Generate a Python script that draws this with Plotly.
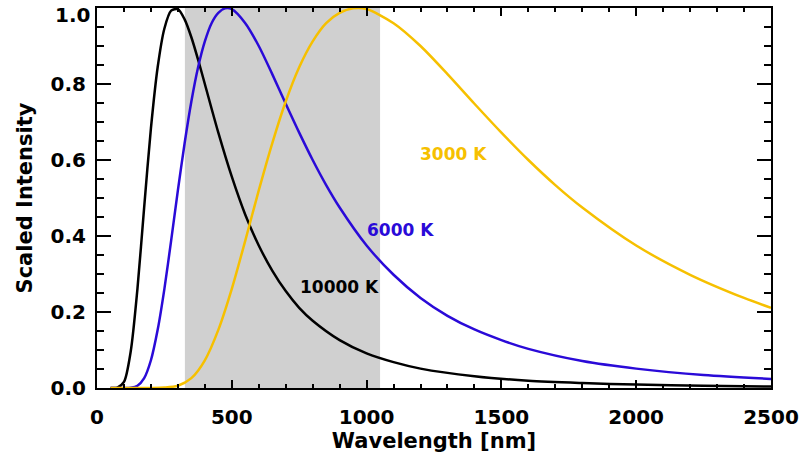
import plotly.graph_objects as go

# ---- data ----
wl_10000 = [50, 75, 100, 125, 150, 175, 200, 225, 250, 275, 300, 325, 350, 375, 400, 450, 500, 550,
            600, 650, 700, 750, 800, 900, 1000, 1100, 1200, 1400, 1600, 1800, 2000, 2250, 2500]
int_10000 = [0.0, 0.001, 0.016, 0.096, 0.261, 0.476, 0.683, 0.844, 0.946, 0.993, 0.997, 0.970, 0.923,
             0.864, 0.800, 0.672, 0.556, 0.456, 0.375, 0.309, 0.255, 0.211, 0.177, 0.126, 0.091, 0.068,
             0.051, 0.031, 0.019, 0.013, 0.009, 0.006, 0.004]

wl_6000 = [50, 100, 125, 150, 175, 200, 225, 250, 275, 300, 325, 350, 375, 400, 425, 450, 475, 500,
           550, 600, 650, 700, 750, 800, 850, 900, 1000, 1100, 1200, 1300, 1400, 1500, 1600, 1800,
           2000, 2250, 2500]
int_6000 = [0.0, 0.0, 0.001, 0.006, 0.026, 0.073, 0.153, 0.261, 0.388, 0.520, 0.644, 0.754, 0.844,
            0.912, 0.960, 0.987, 0.999, 0.997, 0.960, 0.900, 0.826, 0.748, 0.672, 0.600, 0.534, 0.475,
            0.375, 0.298, 0.237, 0.190, 0.154, 0.126, 0.103, 0.071, 0.051, 0.034, 0.024]

wl_3000 = [50, 200, 250, 300, 350, 400, 450, 500, 550, 600, 650, 700, 750, 800, 850, 900, 950, 1000,
           1100, 1200, 1300, 1400, 1500, 1600, 1700, 1800, 2000, 2200, 2400, 2500]
int_3000 = [0.0, 0.0, 0.001, 0.006, 0.026, 0.073, 0.153, 0.261, 0.388, 0.520, 0.644, 0.754, 0.844,
            0.912, 0.960, 0.987, 0.999, 0.997, 0.960, 0.900, 0.826, 0.748, 0.672, 0.600, 0.534, 0.475,
            0.375, 0.298, 0.237, 0.211]

series_names = ["10000 K", "6000 K", "3000 K"]
series_colors = ["#000000", "#2a0ad8", "#f6c000"]
label_x = [901, 1124, 1324]
label_y = [0.267, 0.415, 0.615]

band = [326, 1050]
x_ticks = [0, 500, 1000, 1500, 2000, 2500]
y_ticks = [0.0, 0.2, 0.4, 0.6, 0.8]
y_ticklabels = ["0.0", "0.2", "0.4", "0.6", "0.8"]
y_top_label = "1.0"

FONT = "DejaVu Sans"
TICKFONT = dict(family=FONT, size=20, color="black", weight="bold")

fig = go.Figure()

fig.add_shape(type="rect", xref="x", yref="y", x0=band[0], x1=band[1], y0=0, y1=1,
              fillcolor="#d0d0d0", line=dict(width=0), layer="below")

for wl, val, name, col in zip([wl_10000, wl_6000, wl_3000], [int_10000, int_6000, int_3000],
                              series_names, series_colors):
    fig.add_trace(go.Scatter(x=wl, y=val, mode="lines", name=name,
                             line=dict(color=col, width=2.5, shape="spline", smoothing=0.8),
                             showlegend=False))

for name, col, lx, ly in zip(series_names, series_colors, label_x, label_y):
    fig.add_annotation(x=lx, y=ly, xref="x", yref="y", text=name, showarrow=False,
                       font=dict(family=FONT, size=17, color=col, weight="bold"))

# top y tick label (kept inside the page, as in the reference)
fig.add_annotation(x=0, y=1, xref="paper", yref="paper", text=y_top_label, showarrow=False,
                   xanchor="right", yanchor="middle", xshift=-5, yshift=-7, font=TICKFONT)

fig.update_xaxes(range=[0, 2500], tickvals=x_ticks, ticktext=[str(v) for v in x_ticks],
                 ticks="inside", ticklen=8, tickwidth=2, tickcolor="black",
                 minor=dict(ticks="inside", dtick=100, ticklen=4, tickwidth=2, tickcolor="black"),
                 showline=True, linewidth=2, linecolor="black", mirror="allticks",
                 showgrid=False, zeroline=False, automargin=False,
                 tickfont=TICKFONT, ticklabelstandoff=10,
                 title=dict(text="Wavelength [nm]",
                            font=dict(family=FONT, size=21, color="black", weight="bold"),
                            standoff=2))
fig.update_yaxes(range=[0, 1], tickvals=y_ticks, ticktext=y_ticklabels,
                 ticks="inside", ticklen=14, tickwidth=2, tickcolor="black",
                 minor=dict(ticks="inside", dtick=0.05, ticklen=7, tickwidth=2, tickcolor="black"),
                 showline=True, linewidth=2, linecolor="black", mirror="allticks",
                 showgrid=False, zeroline=False, automargin=False,
                 tickfont=TICKFONT, ticklabelstandoff=5,
                 title=dict(text="Scaled Intensity",
                            font=dict(family=FONT, size=21, color="black", weight="bold"),
                            standoff=12))

fig.update_layout(width=801, height=460, margin=dict(l=97, r=30, t=8, b=72, autoexpand=False),
                  paper_bgcolor="white", plot_bgcolor="white")

fig.write_html("out.html")
